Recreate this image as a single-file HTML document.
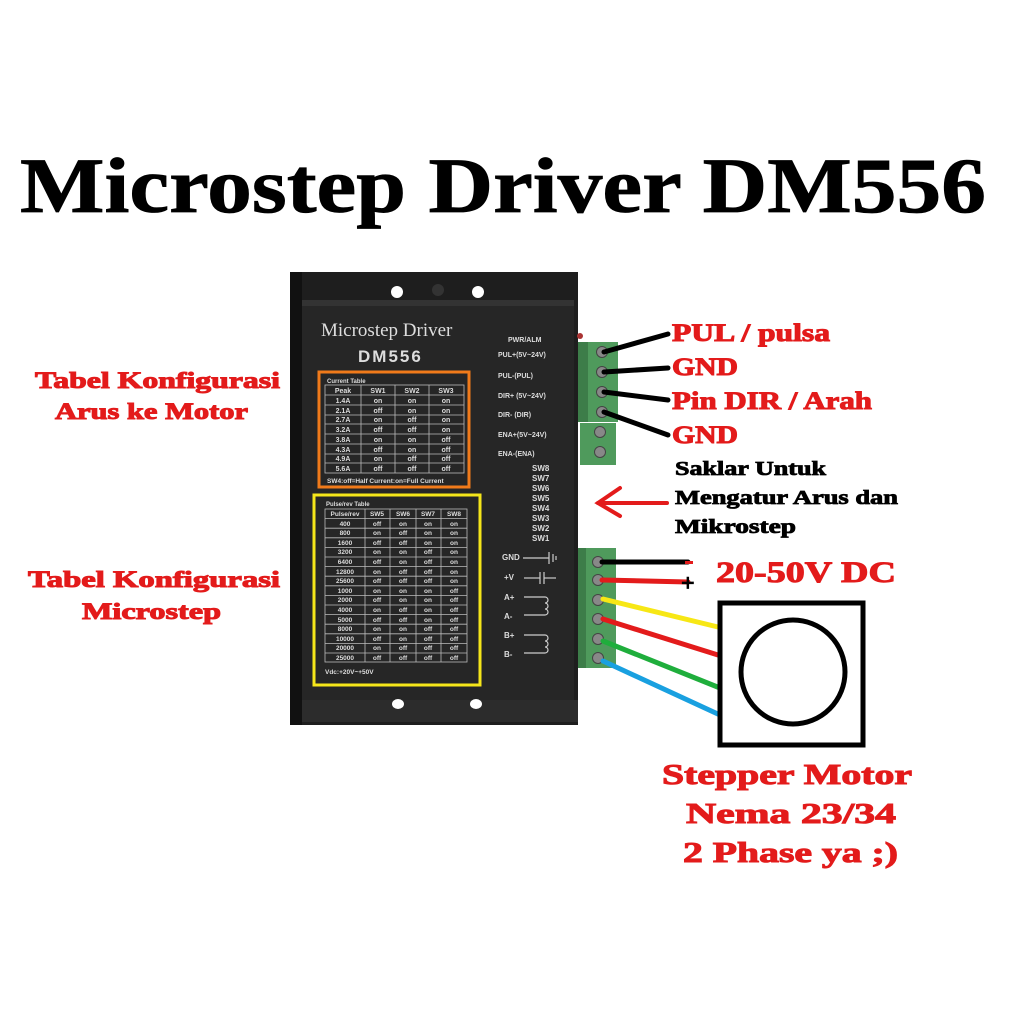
<!DOCTYPE html>
<html><head><meta charset="utf-8"><style>
html,body{margin:0;padding:0;background:#fff;width:1024px;height:1024px;overflow:hidden}
svg{display:block}
.t{font-family:"Liberation Sans",sans-serif;font-weight:bold;fill:#ddd}
.r{font-family:"Liberation Serif",serif;font-weight:bold;fill:#e31b1b;stroke:#e31b1b;stroke-width:1}
.k{font-family:"Liberation Serif",serif;font-weight:bold;fill:#000;stroke:#000;stroke-width:0.8}
</style></head><body>
<svg width="1024" height="1024" viewBox="0 0 1024 1024" xmlns="http://www.w3.org/2000/svg">
<text x="20" y="212" class="k" font-size="78" stroke-width="3" textLength="966" lengthAdjust="spacingAndGlyphs">Microstep Driver DM556</text>

<!-- driver body -->
<rect x="290" y="272" width="288" height="453" fill="#1e1e1e"/>
<rect x="290" y="272" width="12" height="453" fill="#111"/>
<rect x="302" y="300" width="272" height="400" fill="#262626"/>
<rect x="302" y="300" width="272" height="6" fill="#333"/>
<rect x="302" y="700" width="276" height="22" fill="#2c2c2c"/>
<circle cx="397" cy="292" r="6" fill="#fff"/>
<circle cx="478" cy="292" r="6" fill="#fff"/>
<circle cx="438" cy="290" r="6" fill="#333"/>
<ellipse cx="398" cy="704" rx="6" ry="5" fill="#fff"/>
<ellipse cx="476" cy="704" rx="6" ry="5" fill="#fff"/>
<text x="321" y="336" font-family="Liberation Serif,serif" font-size="19" fill="#ddd">Microstep  Driver</text>
<text x="358" y="362" class="t" font-size="17" letter-spacing="2">DM556</text>

<!-- current table -->
<rect x="319" y="372" width="150" height="115" fill="none" stroke="#f07a1a" stroke-width="3"/>
<text x="327" y="383" class="t" font-size="6">Current Table</text>
<g stroke="#bbb" stroke-width="0.8" fill="none">
<rect x="325" y="385" width="139" height="88"/>
<line x1="361" y1="385" x2="361" y2="473"/><line x1="395" y1="385" x2="395" y2="473"/><line x1="429" y1="385" x2="429" y2="473"/>
<line x1="325" y1="395" x2="464" y2="395"/><line x1="325" y1="405" x2="464" y2="405"/><line x1="325" y1="415" x2="464" y2="415"/><line x1="325" y1="424" x2="464" y2="424"/><line x1="325" y1="434" x2="464" y2="434"/><line x1="325" y1="444" x2="464" y2="444"/><line x1="325" y1="454" x2="464" y2="454"/><line x1="325" y1="463" x2="464" y2="463"/>
</g>
<g class="t" font-size="7" text-anchor="middle">
<text x="343" y="393">Peak</text><text x="378" y="393">SW1</text><text x="412" y="393">SW2</text><text x="446" y="393">SW3</text>
<text x="343" y="403">1.4A</text><text x="378" y="403">on</text><text x="412" y="403">on</text><text x="446" y="403">on</text>
<text x="343" y="413">2.1A</text><text x="378" y="413">off</text><text x="412" y="413">on</text><text x="446" y="413">on</text>
<text x="343" y="422">2.7A</text><text x="378" y="422">on</text><text x="412" y="422">off</text><text x="446" y="422">on</text>
<text x="343" y="432">3.2A</text><text x="378" y="432">off</text><text x="412" y="432">off</text><text x="446" y="432">on</text>
<text x="343" y="442">3.8A</text><text x="378" y="442">on</text><text x="412" y="442">on</text><text x="446" y="442">off</text>
<text x="343" y="452">4.3A</text><text x="378" y="452">off</text><text x="412" y="452">on</text><text x="446" y="452">off</text>
<text x="343" y="461">4.9A</text><text x="378" y="461">on</text><text x="412" y="461">off</text><text x="446" y="461">off</text>
<text x="343" y="471">5.6A</text><text x="378" y="471">off</text><text x="412" y="471">off</text><text x="446" y="471">off</text>
</g>
<text x="327" y="483" class="t" font-size="6.5">SW4:off=Half Current:on=Full Current</text>

<!-- pulse table -->
<rect x="314" y="495" width="166" height="190" fill="none" stroke="#f5e61a" stroke-width="3"/>
<text x="326" y="506" class="t" font-size="6">Pulse/rev Table</text>
<g stroke="#bbb" stroke-width="0.8" fill="none">
<rect x="325" y="509" width="142" height="153"/>
<line x1="365" y1="509" x2="365" y2="662"/><line x1="390" y1="509" x2="390" y2="662"/><line x1="416" y1="509" x2="416" y2="662"/><line x1="441" y1="509" x2="441" y2="662"/>
<line x1="325" y1="518.6" x2="467" y2="518.6"/><line x1="325" y1="528.2" x2="467" y2="528.2"/><line x1="325" y1="537.8" x2="467" y2="537.8"/><line x1="325" y1="547.4" x2="467" y2="547.4"/><line x1="325" y1="557" x2="467" y2="557"/><line x1="325" y1="566.6" x2="467" y2="566.6"/><line x1="325" y1="576.2" x2="467" y2="576.2"/><line x1="325" y1="585.8" x2="467" y2="585.8"/><line x1="325" y1="595.4" x2="467" y2="595.4"/><line x1="325" y1="605" x2="467" y2="605"/><line x1="325" y1="614.6" x2="467" y2="614.6"/><line x1="325" y1="624.2" x2="467" y2="624.2"/><line x1="325" y1="633.8" x2="467" y2="633.8"/><line x1="325" y1="643.4" x2="467" y2="643.4"/><line x1="325" y1="653" x2="467" y2="653"/>
</g>
<g class="t" font-size="6.5" text-anchor="middle">
<text x="345" y="516">Pulse/rev</text><text x="377" y="516">SW5</text><text x="403" y="516">SW6</text><text x="428" y="516">SW7</text><text x="454" y="516">SW8</text>
<text x="345" y="526">400</text><text x="377" y="526">off</text><text x="403" y="526">on</text><text x="428" y="526">on</text><text x="454" y="526">on</text>
<text x="345" y="535">800</text><text x="377" y="535">on</text><text x="403" y="535">off</text><text x="428" y="535">on</text><text x="454" y="535">on</text>
<text x="345" y="545">1600</text><text x="377" y="545">off</text><text x="403" y="545">off</text><text x="428" y="545">on</text><text x="454" y="545">on</text>
<text x="345" y="554">3200</text><text x="377" y="554">on</text><text x="403" y="554">on</text><text x="428" y="554">off</text><text x="454" y="554">on</text>
<text x="345" y="564">6400</text><text x="377" y="564">off</text><text x="403" y="564">on</text><text x="428" y="564">off</text><text x="454" y="564">on</text>
<text x="345" y="574">12800</text><text x="377" y="574">on</text><text x="403" y="574">off</text><text x="428" y="574">off</text><text x="454" y="574">on</text>
<text x="345" y="583">25600</text><text x="377" y="583">off</text><text x="403" y="583">off</text><text x="428" y="583">off</text><text x="454" y="583">on</text>
<text x="345" y="593">1000</text><text x="377" y="593">on</text><text x="403" y="593">on</text><text x="428" y="593">on</text><text x="454" y="593">off</text>
<text x="345" y="602">2000</text><text x="377" y="602">off</text><text x="403" y="602">on</text><text x="428" y="602">on</text><text x="454" y="602">off</text>
<text x="345" y="612">4000</text><text x="377" y="612">on</text><text x="403" y="612">off</text><text x="428" y="612">on</text><text x="454" y="612">off</text>
<text x="345" y="622">5000</text><text x="377" y="622">off</text><text x="403" y="622">off</text><text x="428" y="622">on</text><text x="454" y="622">off</text>
<text x="345" y="631">8000</text><text x="377" y="631">on</text><text x="403" y="631">on</text><text x="428" y="631">off</text><text x="454" y="631">off</text>
<text x="345" y="641">10000</text><text x="377" y="641">off</text><text x="403" y="641">on</text><text x="428" y="641">off</text><text x="454" y="641">off</text>
<text x="345" y="650">20000</text><text x="377" y="650">on</text><text x="403" y="650">off</text><text x="428" y="650">off</text><text x="454" y="650">off</text>
<text x="345" y="660">25000</text><text x="377" y="660">off</text><text x="403" y="660">off</text><text x="428" y="660">off</text><text x="454" y="660">off</text>
</g>
<text x="325" y="674" class="t" font-size="6.5">Vdc:+20V~+50V</text>

<!-- right labels on driver -->
<g class="t" font-size="7">
<text x="508" y="342">PWR/ALM</text>
<text x="498" y="357">PUL+(5V~24V)</text>
<text x="498" y="378">PUL-(PUL)</text>
<text x="498" y="398">DIR+ (5V~24V)</text>
<text x="498" y="417">DIR- (DIR)</text>
<text x="498" y="437">ENA+(5V~24V)</text>
<text x="498" y="456">ENA-(ENA)</text>
</g>
<g class="t" font-size="8">
<text x="532" y="471">SW8</text><text x="532" y="481">SW7</text><text x="532" y="491">SW6</text><text x="532" y="501">SW5</text><text x="532" y="511">SW4</text><text x="532" y="521">SW3</text><text x="532" y="531">SW2</text><text x="532" y="541">SW1</text>
<text x="502" y="560">GND</text><text x="504" y="580">+V</text><text x="504" y="600">A+</text><text x="504" y="619">A-</text><text x="504" y="638">B+</text><text x="504" y="657">B-</text>
</g>
<g stroke="#ccc" stroke-width="1.2" fill="none">
<line x1="523" y1="558" x2="549" y2="558"/><line x1="549" y1="552" x2="549" y2="564"/><line x1="553" y1="554" x2="553" y2="562"/><line x1="556" y1="556" x2="556" y2="560"/>
<line x1="524" y1="578" x2="540" y2="578"/><line x1="540" y1="572" x2="540" y2="584"/><line x1="544" y1="572" x2="544" y2="584"/><line x1="544" y1="578" x2="556" y2="578"/>
<path d="M524 597 H545 a3 3 0 0 1 0 6 a3 3 0 0 1 0 6 a3 3 0 0 1 0 6 H524"/>
<path d="M524 635 H545 a3 3 0 0 1 0 6 a3 3 0 0 1 0 6 a3 3 0 0 1 0 6 H524"/>
</g>
<circle cx="580" cy="336" r="3" fill="#a33"/>

<!-- terminal blocks -->
<rect x="578" y="342" width="40" height="80" fill="#4f9a5c"/>
<rect x="578" y="342" width="10" height="80" fill="#3d7d49"/>
<rect x="580" y="423" width="36" height="42" fill="#4f9a5c"/>
<rect x="578" y="548" width="38" height="120" fill="#4f9a5c"/>
<rect x="578" y="548" width="8" height="120" fill="#3d7d49"/>
<g fill="#888" stroke="#444" stroke-width="1">
<circle cx="602" cy="352" r="5.5"/><circle cx="602" cy="372" r="5.5"/><circle cx="602" cy="392" r="5.5"/><circle cx="602" cy="412" r="5.5"/>
<circle cx="600" cy="432" r="5.5"/><circle cx="600" cy="452" r="5.5"/>
<circle cx="598" cy="562" r="5.5"/><circle cx="598" cy="580" r="5.5"/><circle cx="598" cy="600" r="5.5"/><circle cx="598" cy="619" r="5.5"/><circle cx="598" cy="639" r="5.5"/><circle cx="598" cy="658" r="5.5"/>
</g>

<!-- wires -->
<g stroke-width="5" stroke-linecap="round" fill="none">
<line x1="604" y1="352" x2="668" y2="334" stroke="#000"/>
<line x1="604" y1="372" x2="668" y2="368" stroke="#000"/>
<line x1="604" y1="392" x2="668" y2="400" stroke="#000"/>
<line x1="604" y1="412" x2="668" y2="435" stroke="#000"/>
<line x1="602" y1="562" x2="688" y2="562" stroke="#000"/>
<line x1="602" y1="580" x2="688" y2="582" stroke="#e31b1b"/>
<line x1="603" y1="599" x2="718" y2="627" stroke="#f7e715"/>
<line x1="603" y1="619" x2="718" y2="655" stroke="#e31b1b"/>
<line x1="603" y1="641" x2="720" y2="688" stroke="#1fae3c"/>
<line x1="603" y1="661" x2="720" y2="715" stroke="#19a0e0"/>
</g>
<!-- red arrow -->
<g stroke="#e31b1b" stroke-width="4" fill="none" stroke-linecap="round">
<line x1="598" y1="503" x2="667" y2="503"/>
<polyline points="620,488 598,503 620,516"/>
</g>

<!-- motor -->
<rect x="720" y="603" width="143" height="142" fill="#fff" stroke="#000" stroke-width="5"/>
<circle cx="793" cy="672" r="52" fill="none" stroke="#000" stroke-width="5"/>

<!-- red labels -->
<g class="r" font-size="23">
<text x="35" y="388" textLength="245" lengthAdjust="spacingAndGlyphs">Tabel Konfigurasi</text>
<text x="55" y="419" textLength="193" lengthAdjust="spacingAndGlyphs">Arus ke Motor</text>
<text x="28" y="587" textLength="252" lengthAdjust="spacingAndGlyphs">Tabel  Konfigurasi</text>
<text x="82" y="619" textLength="139" lengthAdjust="spacingAndGlyphs">Microstep</text>
</g>
<g class="r" font-size="25">
<text x="672" y="341" textLength="158" lengthAdjust="spacingAndGlyphs">PUL / pulsa</text>
<text x="672" y="375" textLength="66" lengthAdjust="spacingAndGlyphs">GND</text>
<text x="672" y="409" textLength="200" lengthAdjust="spacingAndGlyphs">Pin DIR / Arah</text>
<text x="672" y="443" textLength="66" lengthAdjust="spacingAndGlyphs">GND</text>
</g>
<g class="k" font-size="20">
<text x="675" y="475" textLength="151" lengthAdjust="spacingAndGlyphs">Saklar Untuk</text>
<text x="675" y="504" textLength="223" lengthAdjust="spacingAndGlyphs">Mengatur Arus dan</text>
<text x="675" y="533" textLength="121" lengthAdjust="spacingAndGlyphs">Mikrostep</text>
</g>
<rect x="685" y="561" width="8" height="3" fill="#e31b1b"/>
<text x="681" y="591" class="k" font-size="24">+</text>
<text x="716" y="582" class="r" font-size="30" textLength="180" lengthAdjust="spacingAndGlyphs">20-50V DC</text>
<g class="r" font-size="29">
<text x="662" y="784" textLength="250" lengthAdjust="spacingAndGlyphs">Stepper Motor</text>
<text x="686" y="823" textLength="210" lengthAdjust="spacingAndGlyphs">Nema 23/34</text>
<text x="683" y="862" textLength="215" lengthAdjust="spacingAndGlyphs">2 Phase ya ;)</text>
</g>
</svg>
</body></html>
